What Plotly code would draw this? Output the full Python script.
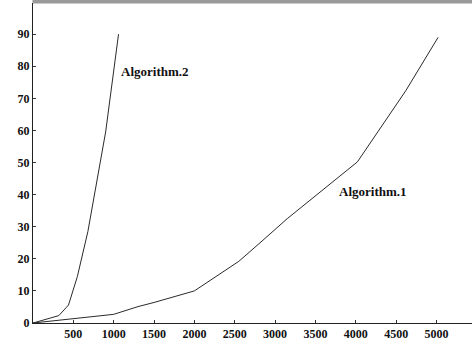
import plotly.graph_objects as go

alg1_x = [0, 1000, 1300, 1500, 2000, 2250, 2550, 2850, 3150, 4020, 4330, 4620, 5020]
alg1_y = [0, 2.7, 5.1, 6.4, 10.0, 14.2, 19.2, 25.8, 32.5, 50.2, 61.5, 72.4, 89.0]

alg2_x = [0, 320, 440, 550, 680, 800, 900, 1060]
alg2_y = [0, 2.3, 5.6, 14.5, 28.5, 45.0, 59.5, 90.0]

x_ticks = [500, 1000, 1500, 2000, 2500, 3000, 3500, 4000, 4500, 5000]
y_ticks = [0, 10, 20, 30, 40, 50, 60, 70, 80, 90]

labels = [("Algorithm.2", 1070, 78.3), ("Algorithm.1", 3770, 41.0)]

font_family = "Liberation Serif, Times New Roman, serif"

fig = go.Figure()
fig.add_trace(go.Scatter(x=alg1_x, y=alg1_y, mode="lines",
                         line=dict(color="#2a2a2a", width=1), showlegend=False))
fig.add_trace(go.Scatter(x=alg2_x, y=alg2_y, mode="lines",
                         line=dict(color="#2a2a2a", width=1), showlegend=False))

for text, lx, ly in labels:
    fig.add_annotation(x=lx, y=ly, text=text, showarrow=False, xanchor="left",
                       yanchor="middle",
                       font=dict(family=font_family, size=13, color="#111",
                                 weight="bold"))

fig.add_shape(type="rect", xref="paper", yref="paper", x0=0, x1=1,
              y0=1, y1=1 + 3 / 320, fillcolor="#999999",
              line=dict(width=1, color="#999999"))

tick_font = dict(family=font_family, size=12, color="#111", weight="bold")

fig.update_layout(
    width=472, height=346,
    margin=dict(l=33, r=0, t=3, b=23),
    paper_bgcolor="white", plot_bgcolor="white",
    font=dict(family=font_family, size=12, color="#111"),
    xaxis=dict(range=[0, 5440], tickvals=x_ticks, ticks="inside", ticklen=3,
               tickcolor="#333", showgrid=False, zeroline=False, showline=True,
               linecolor="#222", linewidth=1, tickfont=tick_font),
    yaxis=dict(range=[0, 99.7], tickvals=y_ticks, ticks="inside", ticklen=3,
               tickcolor="#333", showgrid=False, zeroline=False, showline=True,
               linecolor="#222", linewidth=1, tickfont=tick_font),
)

fig.write_html("out.html", config={"displayModeBar": False},
               post_script="document.body.style.margin='0';document.body.style.padding='0';")
